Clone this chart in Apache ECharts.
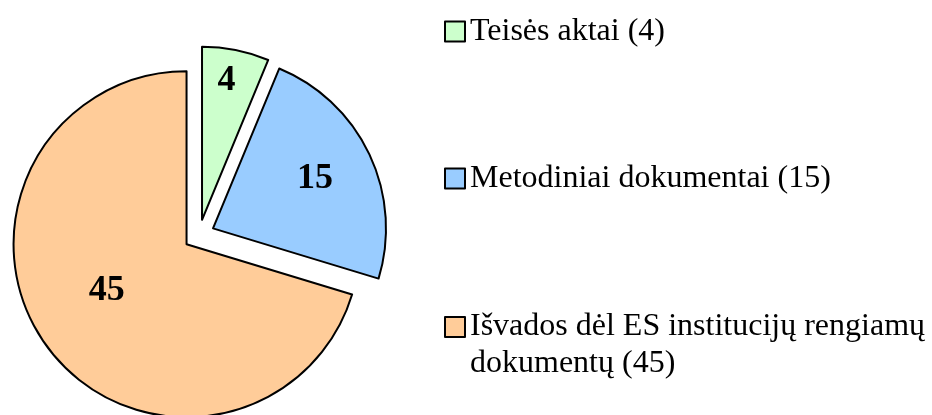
<!DOCTYPE html>
<html>
<head>
<meta charset="utf-8">
<script src="https://cdn.jsdelivr.net/npm/echarts@6/dist/echarts.min.js"></script>
<style>
  html, body { margin: 0; padding: 0; background: #fff; }
  #chart { width: 932px; height: 415px; }
</style>
</head>
<body>
<div id="chart"></div>
<script>
// duomenys
var names = ['Teisės aktai (4)', 'Metodiniai dokumentai (15)', 'Išvados dėl ES institucijų rengiamų dokumentų (45)'];
// an empty first line keeps the legend square next to the first text line
var legendText = ['Teisės aktai (4)', 'Metodiniai dokumentai (15)', '\nIšvados dėl ES institucijų rengiamų\ndokumentų (45)'];
var values = [4, 15, 45];
var colors = ['#CCFFCC', '#99CCFF', '#FFCC99'];

// label nudges (Excel "best fit" places them a bit differently)
var labelShift = [[7, -51], [21, -11], [-8, -7]];
var legendTop = [13, 160, 271.5];

var font = '"Liberation Serif", "Times New Roman", serif';

var chart = echarts.init(document.getElementById('chart'));

var pieData = [];
for (var i = 0; i < values.length; i++) {
  pieData.push({
    name: names[i],
    value: values[i],
    selected: true,
    itemStyle: { color: colors[i] },
    select: { itemStyle: { color: colors[i], borderColor: '#000', borderWidth: 2 } }
  });
}

var legends = [];
for (var j = 0; j < names.length; j++) {
  legends.push({
    orient: 'vertical',
    left: 444,
    top: legendTop[j],
    padding: 0,
    icon: 'rect',
    itemWidth: 20,
    itemHeight: 20,
    selectedMode: false,
    data: [{ name: names[j] }],
    formatter: (function(k) { return function() { return legendText[k]; }; })(j),
    textStyle: {
      fontFamily: font,
      fontSize: 32,
      lineHeight: 37,
      color: '#000'
    }
  });
}

chart.setOption({
  animation: false,
  legend: legends,
  series: [{
    type: 'pie',
    center: [199, 235],
    radius: 173,
    startAngle: 90,
    clockwise: true,
    selectedMode: 'multiple',
    selectedOffset: 15.5,
    data: pieData,
    itemStyle: { borderColor: '#000', borderWidth: 2 },
    label: {
      show: true,
      position: 'inside',
      formatter: '{c}',
      fontFamily: font,
      fontSize: 36,
      fontWeight: 'bold',
      color: '#000'
    },
    labelLayout: function(params) {
      return { dx: labelShift[params.dataIndex][0], dy: labelShift[params.dataIndex][1] };
    },
    emphasis: { disabled: true }
  }]
});
</script>
</body>
</html>
